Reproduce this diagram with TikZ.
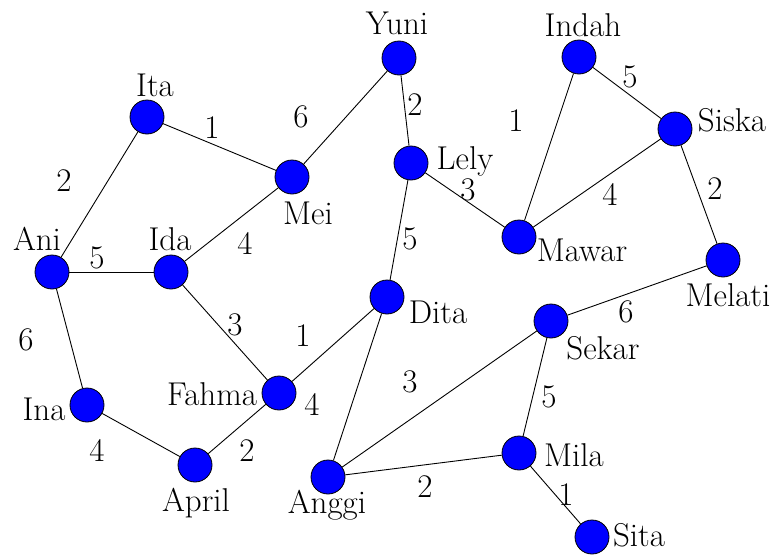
\documentclass[tikz,border=0pt]{standalone}
\usepackage{fontspec}
\setmainfont{Latin Modern Roman}
\begin{document}
\begin{tikzpicture}[x=1pt,y=-1pt,
  vertex/.style={circle,draw=black,fill=blue,line width=0.8pt,minimum size=34pt,inner sep=0pt},
  vlabel/.style={font=\fontsize{33}{38}\selectfont,inner sep=0pt},
  weight/.style={font=\fontsize{33}{38}\selectfont,inner sep=0pt},
  edge/.style={draw=black,line width=0.9pt}]
\useasboundingbox (0,0) rectangle (775,554);
% vertices
\node[vertex] (ita) at (147,117) {};
\node[vertex] (yuni) at (399,58) {};
\node[vertex] (indah) at (579,57) {};
\node[vertex] (siska) at (675,129) {};
\node[vertex] (lely) at (411,163) {};
\node[vertex] (mei) at (292,177) {};
\node[vertex] (ani) at (52,272) {};
\node[vertex] (ida) at (171,272) {};
\node[vertex] (mawar) at (519,237) {};
\node[vertex] (melati) at (723,260) {};
\node[vertex] (dita) at (387,297) {};
\node[vertex] (sekar) at (551,321) {};
\node[vertex] (ina) at (87,405) {};
\node[vertex] (fahma) at (279,393) {};
\node[vertex] (mila) at (519,453) {};
\node[vertex] (april) at (195,465) {};
\node[vertex] (anggi) at (328,477) {};
\node[vertex] (sita) at (592,537) {};
% vertex names
\node[vlabel] (tita) at (155,85) {Ita};
\node[vlabel] (tyuni) at (397,23) {Yuni};
\node[vlabel] (tindah) at (583,25) {Indah};
\node[vlabel] (tsiska) at (732,120) {Siska};
\node[vlabel] (tlely) at (465,161) {Lely};
\node[vlabel] (tmei) at (308,213) {Mei};
\node[vlabel] (tani) at (37,239) {Ani};
\node[vlabel] (tida) at (170,239) {Ida};
\node[vlabel] (tmawar) at (582,250) {Mawar};
\node[vlabel] (tmelati) at (728,295) {Melati};
\node[vlabel] (tdita) at (438,312) {Dita};
\node[vlabel] (tsekar) at (603,348) {Sekar};
\node[vlabel] (tina) at (44,409) {Ina};
\node[vlabel] (tfahma) at (212,394) {Fahma};
\node[vlabel] (tmila) at (574,455) {Mila};
\node[vlabel] (tapril) at (196,503) {April};
\node[vlabel] (tanggi) at (327,505) {Anggi};
\node[vlabel] (tsita) at (639,535) {Sita};
% edges
\path[edge] (ani) -- (ita);
\path[edge] (ita) -- (mei);
\path[edge] (mei) -- (yuni);
\path[edge] (ani) -- (ida);
\path[edge] (ida) -- (mei);
\path[edge] (yuni) -- (lely);
\path[edge] (indah) -- (mawar);
\path[edge] (indah) -- (siska);
\path[edge] (lely) -- (mawar);
\path[edge] (siska) -- (mawar);
\path[edge] (siska) -- (melati);
\path[edge] (lely) -- (dita);
\path[edge] (ani) -- (ina);
\path[edge] (ida) -- (fahma);
\path[edge] (fahma) -- (dita);
\path[edge] (dita) -- (anggi);
\path[edge] (ina) -- (april);
\path[edge] (april) -- (fahma);
\path[edge] (melati) -- (sekar);
\path[edge] (sekar) -- (anggi);
\path[edge] (sekar) -- (mila);
\path[edge] (anggi) -- (mila);
\path[edge] (mila) -- (sita);
% edge weights
\node[weight] at (64,181) {2};
\node[weight] at (212,128) {1};
\node[weight] at (301,117) {6};
\node[weight] at (97,258) {5};
\node[weight] at (245,243) {4};
\node[weight] at (415,105) {2};
\node[weight] at (516,121) {1};
\node[weight] at (630,77) {5};
\node[weight] at (468,190) {3};
\node[weight] at (610,194) {4};
\node[weight] at (715,189) {2};
\node[weight] at (410,239) {5};
\node[weight] at (26,340) {6};
\node[weight] at (235,325) {3};
\node[weight] at (303,336) {1};
\node[weight] at (312,404) {4};
\node[weight] at (97,450) {4};
\node[weight] at (247,451) {2};
\node[weight] at (626,312) {6};
\node[weight] at (410,382) {3};
\node[weight] at (549,397) {5};
\node[weight] at (425,487) {2};
\node[weight] at (566,495) {1};
\end{tikzpicture}
\end{document}
